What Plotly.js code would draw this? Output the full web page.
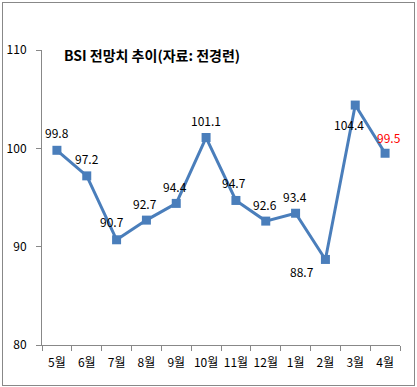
<!DOCTYPE html>
<html>
<head>
<meta charset="utf-8">
<script src="https://cdn.plot.ly/plotly-3.0.1.min.js"></script>
<style>
html,body{margin:0;padding:0;background:#fff;}
#wrap{position:relative;width:417px;height:387px;}
#chart{width:417px;height:387px;}
#frame{position:absolute;left:2px;top:2px;width:411px;height:382px;border:1px solid #888;pointer-events:none;}
</style>
</head>
<body>
<div id="wrap"><div id="chart"></div><div id="frame"></div></div>
<script>
const months = ["5월","6월","7월","8월","9월","10월","11월","12월","1월","2월","3월","4월"];
const bsi = [99.8, 97.2, 90.7, 92.7, 94.4, 101.1, 94.7, 92.6, 93.4, 88.7, 104.4, 99.5];
const yTicks = [80, 90, 100, 110];
// label offsets from each point, in pixels [dx, dy-up]
const labelDx = [0, 0, -5, -1, -1, 0, -2, -1, -1, -23, -6, 4];
const labelDy = [18, 17, 18, 17, 17, 17, 18, 17, 17, -12, -19, 16];
const labelColors = ["#000","#000","#000","#000","#000","#000","#000","#000","#000","#000","#000","#ff0000"];
const FONT = "Noto Sans CJK KR, Liberation Sans, sans-serif";

const trace = {
  x: months,
  y: bsi,
  type: "scatter",
  mode: "lines+markers",
  line: {color: "#4a7ebb", width: 3},
  marker: {symbol: "square", size: 9, color: "#4a7ebb"},
  cliponaxis: false,
  hoverinfo: "skip"
};

const labels = bsi.map((v, i) => ({
  x: months[i], y: v, xref: "x", yref: "y",
  text: v.toFixed(1), showarrow: false,
  xanchor: "center", yanchor: "middle",
  xshift: labelDx[i], yshift: labelDy[i],
  font: {family: FONT, size: 12, color: labelColors[i]}
}));

const layout = {
  width: 417, height: 387,
  margin: {l: 42, r: 17, t: 50, b: 42, pad: 0},
  paper_bgcolor: "#fff", plot_bgcolor: "#fff",
  showlegend: false,
  font: {family: FONT, size: 12, color: "#000"},
  xaxis: {
    type: "category",
    showgrid: false, zeroline: false,
    showline: true, linecolor: "#888", linewidth: 1,
    ticks: "outside", tickson: "boundaries", ticklen: 5, tickcolor: "#888",
    tickfont: {family: FONT, size: 12, color: "#000"},
    tickangle: 0,
    ticklabelstandoff: 7,
    range: [-0.5, 11.5]
  },
  yaxis: {
    range: [80, 110],
    tickvals: yTicks,
    showgrid: false, zeroline: false,
    showline: true, linecolor: "#888", linewidth: 1,
    ticks: "outside", ticklen: 5, tickcolor: "#888",
    tickfont: {family: FONT, size: 12, color: "#000"},
    ticklabelstandoff: 7
  },
  annotations: labels.concat([{
    text: "<b>BSI 전망치 추이(자료: 전경련)</b>",
    xref: "paper", yref: "paper",
    x: 0.056, y: 1.0, xanchor: "left", yanchor: "middle",
    yshift: -5,
    showarrow: false,
    font: {family: FONT, size: 14, color: "#000"}
  }])
};

Plotly.newPlot("chart", [trace], layout, {staticPlot: true, displayModeBar: false});
</script>
</body>
</html>
